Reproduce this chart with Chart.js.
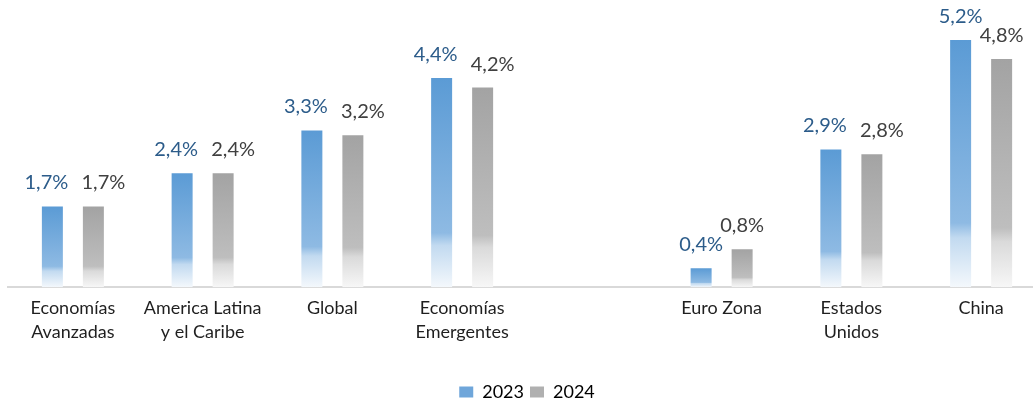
<!DOCTYPE html>
<html>
<head>
<meta charset="utf-8">
<script src="https://cdn.jsdelivr.net/npm/chart.js@4/dist/chart.umd.min.js"></script>
<style>
  html, body { margin: 0; padding: 0; background: #fff; overflow: hidden; }
  #wrap { width: 1050px; height: 403px; position: relative; }
</style>
</head>
<body>
<div id="wrap"><canvas id="growthChart"></canvas></div>
<script>
// categories, with a blank slot splitting the regions from the countries
const categories = [
  ['Economías', 'Avanzadas'],
  ['America Latina', 'y el Caribe'],
  'Global',
  ['Economías', 'Emergentes'],
  '',
  'Euro Zona',
  ['Estados', 'Unidos'],
  'China'
];
const growth2023 = [1.7, 2.4, 3.3, 4.4, null, 0.4, 2.9, 5.2];
const growth2024 = [1.7, 2.4, 3.2, 4.2, null, 0.8, 2.8, 4.8];

const FONT = 'Lato, "Noto Sans", sans-serif';

// gradient stops per series: solid on top, washing out to white at the base
const blueStops = [[0, '#5B9BD5'], [0.74, '#8EBAE3'], [0.80, '#C2DAF0'], [1, '#F4F8FC']];
const grayStops = [[0, '#A3A3A3'], [0.74, '#BEBEBE'], [0.80, '#DADADA'], [1, '#F7F7F7']];

const barFill = (stops, solid) => (ctx) => {
    const chart = ctx.chart;
    const yScale = chart.scales.y;
    if (!yScale || ctx.raw == null || ctx.type !== 'data') return solid;
    const top = yScale.getPixelForValue(ctx.raw);
    const base = yScale.getPixelForValue(0);
    if (!isFinite(top) || !isFinite(base) || top === base) return solid;
    const g = chart.ctx.createLinearGradient(0, top, 0, base);
    stops.forEach(s => g.addColorStop(s[0], s[1]));
    return g;
};

const fmt = v => v.toFixed(1).replace('.', ',') + '%';

// value labels above each bar; pushed apart sideways when a pair would collide
const valueLabels = {
    id: 'valueLabels',
    afterDatasetsDraw(chart) {
        const c = chart.ctx;
        const m0 = chart.getDatasetMeta(0);
        const m1 = chart.getDatasetMeta(1);
        c.save();
        c.font = '20px ' + FONT;
        c.textAlign = 'center';
        c.textBaseline = 'alphabetic';
        categories.forEach((cat, i) => {
            const a = m0.data[i], b = m1.data[i];
            const va = growth2023[i], vb = growth2024[i];
            if (va == null || vb == null) return;
            let dxa = 0, dxb = 0;
            if (Math.abs(a.y - b.y) < 16) { dxa = -6; dxb = 10; }
            c.fillStyle = '#2C5C8A';
            c.fillText(fmt(va), a.x + dxa, a.y - 17);
            c.fillStyle = '#404040';
            c.fillText(fmt(vb), b.x + dxb, b.y - 17);
        });
        c.restore();
    }
};

new Chart(document.getElementById('growthChart'), {
    type: 'bar',
    data: {
        labels: categories,
        datasets: [
            {
                label: '2023',
                data: growth2023,
                backgroundColor: barFill(blueStops, '#6FA6DA'),
                categoryPercentage: 0.632,
                barPercentage: 0.512
            },
            {
                label: '2024',
                data: growth2024,
                backgroundColor: barFill(grayStops, '#B0B0B0'),
                categoryPercentage: 0.632,
                barPercentage: 0.512
            }
        ]
    },
    options: {
        responsive: true,
        maintainAspectRatio: false,
        animation: false,
        layout: { padding: { left: 8, right: 4, top: 2, bottom: -8 } },
        scales: {
            x: {
                grid: { display: false },
                border: { color: '#D9D9D9', width: 2 },
                ticks: {
                    color: '#1F1F1F',
                    font: { family: FONT, size: 18, lineHeight: 1.38 },
                    maxRotation: 0,
                    autoSkip: false,
                    padding: 0
                },
                // leave room between the category names and the legend
                afterFit(scale) { scale.height += 32; }
            },
            y: {
                display: false,
                min: 0,
                max: 6
            }
        },
        plugins: {
            legend: {
                position: 'bottom',
                labels: {
                    color: '#404040',
                    font: { family: FONT, size: 18 },
                    boxWidth: 14,
                    boxHeight: 11,
                    padding: 6,
                    generateLabels(chart) {
                        const solid = ['#6FA6DA', '#B0B0B0'];
                        return chart.data.datasets.map((ds, i) => ({
                            text: ds.label,
                            fillStyle: solid[i],
                            strokeStyle: solid[i],
                            lineWidth: 0,
                            datasetIndex: i,
                            hidden: false
                        }));
                    }
                }
            },
            tooltip: { enabled: false }
        }
    },
    plugins: [valueLabels]
});
</script>
</body>
</html>
